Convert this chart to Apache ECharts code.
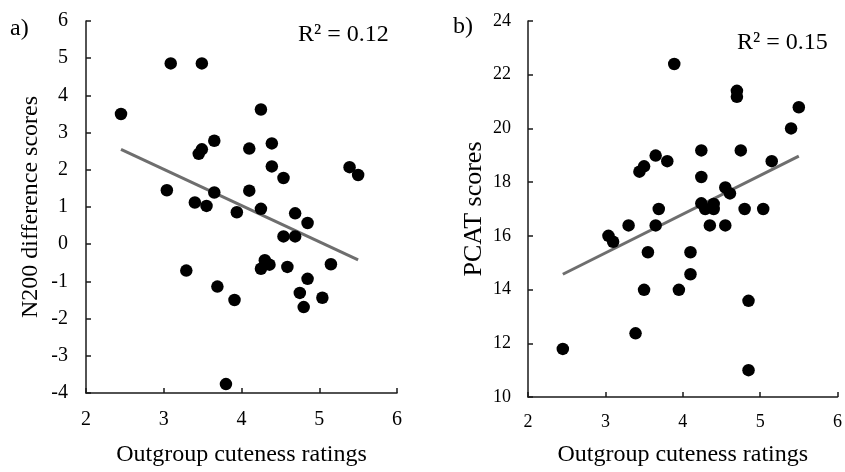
<!DOCTYPE html>
<html>
<head>
<meta charset="utf-8">
<script src="https://cdn.jsdelivr.net/npm/echarts@6/dist/echarts.min.js"></script>
<style>
html,body{margin:0;padding:0;background:#fff;}
#c{width:845px;height:472px;}
</style>
</head>
<body>
<div id="c"></div>
<script>
// Panel a) Outgroup cuteness vs N200 difference scores
const cuteA = [2.45,3.09,3.49,4.25,3.65,3.49,3.45,4.10,4.39,4.39,4.54,5.39,5.50,3.04,3.65,4.10,3.40,3.55,3.94,4.25,4.69,4.85,4.54,4.69,3.29,4.30,4.36,4.25,4.59,5.15,4.85,3.69,3.91,4.75,5.04,4.80,3.80];
const n200 = [3.50,4.86,4.86,3.62,2.78,2.55,2.43,2.57,2.71,2.09,1.78,2.07,1.86,1.45,1.39,1.44,1.12,1.03,0.86,0.95,0.83,0.57,0.21,0.21,-0.71,-0.43,-0.55,-0.66,-0.61,-0.54,-0.93,-1.14,-1.50,-1.31,-1.44,-1.69,-3.76];
const trendAX = [2.45,5.50];
const trendAY = [2.55,-0.42];

// Panel b) Outgroup cuteness vs PCAT scores
const cuteB = [3.89,4.70,4.70,5.50,5.40,4.24,4.75,3.65,3.80,3.50,3.44,5.15,4.24,4.55,4.61,4.24,4.40,4.29,4.40,3.69,4.80,5.04,3.30,3.65,4.35,4.55,3.04,3.10,3.55,4.10,4.10,3.50,3.95,4.85,3.39,2.45,4.85];
const pcat = [22.40,21.40,21.18,20.79,20.00,19.18,19.18,18.99,18.78,18.59,18.39,18.78,18.19,17.80,17.58,17.21,17.19,17.00,17.00,17.00,17.00,17.00,16.39,16.39,16.39,16.39,16.00,15.78,15.39,15.39,14.57,13.99,13.99,13.58,12.37,11.79,11.00];
const trendBX = [2.45,5.50];
const trendBY = [14.57,18.97];

const labelA = 'a)', labelB = 'b)';
const r2A = 'R² = 0.12', r2B = 'R² = 0.15';
const xTitle = 'Outgroup cuteness ratings';
const yTitleA = 'N200 difference scores', yTitleB = 'PCAT scores';

const FONT = '"Liberation Serif","Times New Roman",serif';
const axisCol = '#1a1a1a';

function zip(a,b){return a.map((v,i)=>[v,b[i]]);}

function xAxis(idx, fs, margin, gap){
  return {
    type:'value', gridIndex:idx, min:2, max:6, interval:1,
    axisLine:{show:true,onZero:false,lineStyle:{color:axisCol,width:1.5}},
    axisTick:{show:true,inside:true,length:5,lineStyle:{color:axisCol,width:1.5}},
    splitLine:{show:false},
    axisLabel:{color:'#000',fontFamily:FONT,fontSize:fs,margin:margin},
    name:xTitle, nameLocation:'middle', nameGap:gap,
    nameTextStyle:{color:'#000',fontFamily:FONT,fontSize:24}
  };
}
function yAxis(idx, min, max, interval, fs, margin, name, gap, nfs){
  return {
    type:'value', gridIndex:idx, min:min, max:max, interval:interval,
    axisLine:{show:true,onZero:false,lineStyle:{color:axisCol,width:1.5}},
    axisTick:{show:true,inside:true,length:5,lineStyle:{color:axisCol,width:1.5}},
    splitLine:{show:false},
    axisLabel:{color:'#000',fontFamily:FONT,fontSize:fs,margin:margin},
    name:name, nameLocation:'middle', nameGap:gap, nameRotate:90,
    nameTextStyle:{color:'#000',fontFamily:FONT,fontSize:nfs}
  };
}

const chart = echarts.init(document.getElementById('c'),null,{renderer:'canvas'});
chart.setOption({
  backgroundColor:'#fff',
  animation:false,
  grid:[
    {left:86, top:21, width:311, height:379},
    {left:528, top:21, width:313, height:383}
  ],
  xAxis:[xAxis(0,20,17,50), xAxis(1,18,16,46)],
  yAxis:[yAxis(0,-4,6,1,20,18,yTitleA,43,24), yAxis(1,10,24,2,18,17,yTitleB,41,26)],
  title:[
    {text:labelA,left:5,top:12,textStyle:{fontFamily:FONT,fontSize:24,fontWeight:'normal',color:'#000'}},
    {text:labelB,left:448,top:10,textStyle:{fontFamily:FONT,fontSize:24,fontWeight:'normal',color:'#000'}},
    {text:r2A,left:293,top:18,textStyle:{fontFamily:FONT,fontSize:24,fontWeight:'normal',color:'#000'}},
    {text:r2B,left:732,top:26,textStyle:{fontFamily:FONT,fontSize:24,fontWeight:'normal',color:'#000'}}
  ],
  series:[
    {type:'line',xAxisIndex:0,yAxisIndex:0,data:zip(trendAX,trendAY),symbol:'none',
     lineStyle:{color:'#6e6e6e',width:3},z:1},
    {type:'scatter',xAxisIndex:0,yAxisIndex:0,data:zip(cuteA,n200),symbolSize:12.5,
     itemStyle:{color:'#000',opacity:1},z:2},
    {type:'line',xAxisIndex:1,yAxisIndex:1,data:zip(trendBX,trendBY),symbol:'none',
     lineStyle:{color:'#6e6e6e',width:3},z:1},
    {type:'scatter',xAxisIndex:1,yAxisIndex:1,data:zip(cuteB,pcat),symbolSize:12.5,
     itemStyle:{color:'#000',opacity:1},z:2}
  ]
});
</script>
</body>
</html>
